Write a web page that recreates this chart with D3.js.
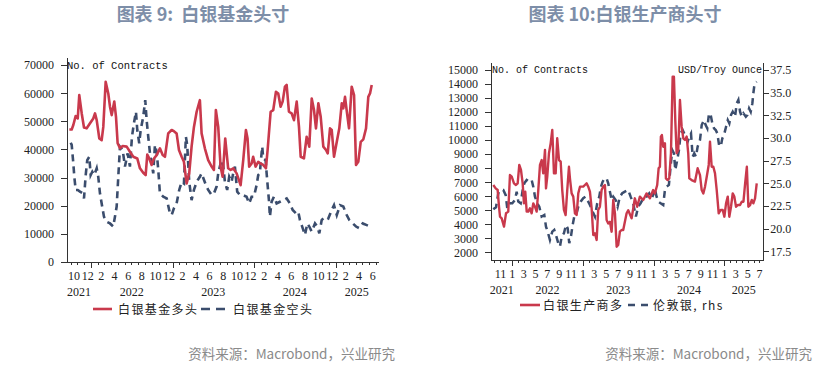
<!DOCTYPE html>
<html><head><meta charset="utf-8">
<script src="https://cdn.jsdelivr.net/npm/d3@7"></script>
<style>
body{margin:0;background:#fff;}
svg{display:block;}
</style></head>
<body><svg id="c" width="840" height="367"></svg>
<script>
// ---------- DATA (dates as decimal years) ----------
const fundLong = [[2021.733,47100],[2021.762,47100],[2021.782,48700],[2021.811,51900],[2021.836,51000],[2021.855,59300],[2021.885,52800],[2021.913,47800],[2021.946,47500],[2021.987,49300],[2022.027,51000],[2022.048,52800],[2022.069,50400],[2022.101,43900],[2022.130,43300],[2022.150,48000],[2022.179,64000],[2022.211,59900],[2022.232,55200],[2022.253,52200],[2022.285,57000],[2022.306,51600],[2022.326,42200],[2022.355,40400],[2022.388,41200],[2022.437,41000],[2022.477,39200],[2022.518,37400],[2022.567,36800],[2022.600,33300],[2022.640,31700],[2022.670,30900],[2022.690,38200],[2022.714,36800],[2022.744,34500],[2022.772,36800],[2022.805,38000],[2022.845,40400],[2022.879,38000],[2022.907,37400],[2022.947,45700],[2022.989,46900],[2023.017,46500],[2023.050,45700],[2023.079,39800],[2023.112,37400],[2023.140,35600],[2023.173,27900],[2023.205,31500],[2023.234,41000],[2023.263,48000],[2023.296,53400],[2023.336,57500],[2023.357,45700],[2023.397,40400],[2023.438,36200],[2023.480,33900],[2023.508,32700],[2023.532,54000],[2023.561,48000],[2023.590,33900],[2023.615,30300],[2023.647,43900],[2023.683,33300],[2023.713,32700],[2023.745,33300],[2023.787,31500],[2023.836,27300],[2023.868,36200],[2023.901,46900],[2023.921,43900],[2023.941,33900],[2023.971,35000],[2023.990,37400],[2024.020,33900],[2024.052,35600],[2024.081,35000],[2024.113,34500],[2024.146,33300],[2024.167,39800],[2024.204,53400],[2024.236,54000],[2024.269,60500],[2024.297,59900],[2024.326,55200],[2024.351,57000],[2024.379,62300],[2024.400,62900],[2024.428,53400],[2024.461,52800],[2024.490,50400],[2024.523,57000],[2024.551,48000],[2024.572,37400],[2024.612,36800],[2024.645,44500],[2024.677,41000],[2024.707,58100],[2024.735,54000],[2024.759,47500],[2024.788,56400],[2024.817,51600],[2024.849,41000],[2024.882,39800],[2024.903,38600],[2024.931,47500],[2024.952,46900],[2024.980,37400],[2025.014,42700],[2025.045,47500],[2025.075,56400],[2025.094,54600],[2025.115,58700],[2025.140,52800],[2025.164,47500],[2025.197,62300],[2025.226,59300],[2025.250,34500],[2025.278,35600],[2025.308,42700],[2025.340,43600],[2025.373,47500],[2025.401,58700],[2025.422,59900],[2025.443,62900]];

const fundShort = [[2021.750,42400],[2021.762,41600],[2021.782,35000],[2021.794,30300],[2021.811,25600],[2021.836,25600],[2021.864,25000],[2021.897,24400],[2021.913,22600],[2021.934,30900],[2021.953,36200],[2021.978,37400],[2021.995,30900],[2022.015,32100],[2022.039,30900],[2022.069,33300],[2022.088,30300],[2022.109,24400],[2022.130,20800],[2022.158,16100],[2022.191,14300],[2022.232,13700],[2022.272,12600],[2022.293,16100],[2022.314,19700],[2022.334,30300],[2022.355,41000],[2022.388,39800],[2022.416,33900],[2022.449,38600],[2022.477,33900],[2022.502,44500],[2022.526,49300],[2022.551,53400],[2022.567,46900],[2022.591,42200],[2022.609,46900],[2022.640,51600],[2022.665,57500],[2022.682,50400],[2022.702,44500],[2022.723,38600],[2022.744,35000],[2022.763,31500],[2022.784,41600],[2022.805,39200],[2022.825,32700],[2022.845,24400],[2022.886,23200],[2022.928,22600],[2022.968,17300],[2022.989,16700],[2023.017,19100],[2023.050,20800],[2023.082,25600],[2023.112,28500],[2023.140,27900],[2023.164,44500],[2023.180,41600],[2023.205,28500],[2023.234,22000],[2023.263,25600],[2023.296,28500],[2023.336,30300],[2023.357,31500],[2023.410,27300],[2023.438,25600],[2023.480,23800],[2023.508,24400],[2023.541,26800],[2023.561,31500],[2023.590,35000],[2023.615,36200],[2023.643,28500],[2023.671,25600],[2023.696,30300],[2023.725,28500],[2023.745,31500],[2023.766,33900],[2023.794,25000],[2023.827,23800],[2023.860,23800],[2023.909,23200],[2023.941,20800],[2023.971,23200],[2023.999,23200],[2024.032,27300],[2024.052,30900],[2024.072,31500],[2024.085,36200],[2024.101,41000],[2024.113,36800],[2024.142,36200],[2024.155,31500],[2024.167,27300],[2024.183,22000],[2024.195,16100],[2024.216,21400],[2024.244,23200],[2024.277,20800],[2024.318,21400],[2024.358,22000],[2024.400,22600],[2024.440,20800],[2024.474,18500],[2024.514,17300],[2024.542,17900],[2024.563,14900],[2024.584,13100],[2024.624,9600],[2024.653,13700],[2024.677,12600],[2024.707,10800],[2024.747,13700],[2024.775,12600],[2024.800,10200],[2024.829,14900],[2024.870,16100],[2024.910,15500],[2024.952,18500],[2024.980,20200],[2025.014,16700],[2025.054,20200],[2025.094,19700],[2025.136,16700],[2025.168,14900],[2025.210,13700],[2025.250,12600],[2025.291,12000],[2025.333,13700],[2025.382,13100],[2025.422,12600],[2025.443,12000]];

const producerLong = [[2021.731,6800],[2021.765,6560],[2021.793,6440],[2021.812,5250],[2021.826,4540],[2021.850,4420],[2021.883,3830],[2021.911,4780],[2021.943,4900],[2021.967,7510],[2021.992,7390],[2022.024,6920],[2022.052,6800],[2022.076,6920],[2022.099,8230],[2022.123,7870],[2022.147,6920],[2022.165,5490],[2022.184,6320],[2022.204,4900],[2022.226,4900],[2022.250,5140],[2022.274,4780],[2022.297,5490],[2022.321,5250],[2022.345,4900],[2022.368,6440],[2022.392,8230],[2022.416,8580],[2022.438,7630],[2022.463,9300],[2022.477,6560],[2022.495,7390],[2022.519,9060],[2022.543,9770],[2022.566,10720],[2022.590,7630],[2022.614,7630],[2022.636,10130],[2022.661,8580],[2022.685,8460],[2022.707,6440],[2022.731,5020],[2022.755,4660],[2022.778,6440],[2022.802,8100],[2022.816,7270],[2022.840,6200],[2022.863,5970],[2022.887,4780],[2022.911,4660],[2022.934,6200],[2022.958,6680],[2022.982,6680],[2023.004,6680],[2023.028,6800],[2023.052,6920],[2023.075,6680],[2023.099,6320],[2023.123,5140],[2023.146,3230],[2023.170,3350],[2023.194,2880],[2023.216,5020],[2023.240,5250],[2023.264,6440],[2023.287,6680],[2023.311,6800],[2023.335,4300],[2023.358,4060],[2023.382,4180],[2023.406,3470],[2023.429,5730],[2023.453,4780],[2023.477,2400],[2023.499,2520],[2023.523,3470],[2023.547,3590],[2023.570,3590],[2023.618,4780],[2023.641,5000],[2023.689,4420],[2023.735,5850],[2023.768,5250],[2023.806,5970],[2023.853,5730],[2023.901,6200],[2023.948,5850],[2023.994,6440],[2024.018,6200],[2024.051,6800],[2024.071,7990],[2024.089,8100],[2024.103,10250],[2024.117,10360],[2024.136,9530],[2024.160,9770],[2024.174,7270],[2024.198,7150],[2024.221,7270],[2024.245,9060],[2024.269,14520],[2024.287,14520],[2024.306,11430],[2024.325,9060],[2024.348,9300],[2024.372,12860],[2024.396,10960],[2024.419,10130],[2024.443,10010],[2024.467,10250],[2024.489,9060],[2024.504,7270],[2024.537,7150],[2024.584,7040],[2024.622,7990],[2024.655,7510],[2024.679,6440],[2024.702,6200],[2024.726,6680],[2024.750,7390],[2024.778,8230],[2024.796,9890],[2024.820,8100],[2024.843,8100],[2024.867,7630],[2024.891,6440],[2024.919,4780],[2024.948,5020],[2024.976,5020],[2024.999,4540],[2025.023,5490],[2025.047,5970],[2025.069,4540],[2025.093,5250],[2025.117,6200],[2025.140,5970],[2025.164,5250],[2025.188,5370],[2025.221,5370],[2025.245,5610],[2025.269,5610],[2025.293,6920],[2025.317,8100],[2025.339,5250],[2025.363,5370],[2025.387,5730],[2025.409,5490],[2025.433,5850],[2025.457,6920]];

const londonSilver = [[2021.731,22.13],[2021.769,22.35],[2021.802,23.9],[2021.836,24.27],[2021.873,24.27],[2021.907,23.7],[2021.929,22.24],[2021.967,22.8],[2022.000,22.8],[2022.038,23.16],[2022.062,24.08],[2022.085,22.98],[2022.119,22.8],[2022.147,24.27],[2022.170,25.0],[2022.204,25.37],[2022.236,25.2],[2022.274,25.37],[2022.297,24.63],[2022.321,23.53],[2022.354,22.8],[2022.382,22.43],[2022.416,21.33],[2022.453,21.5],[2022.477,20.22],[2022.501,19.67],[2022.533,18.75],[2022.566,19.67],[2022.594,19.86],[2022.618,19.3],[2022.651,18.39],[2022.675,18.02],[2022.699,19.12],[2022.731,19.49],[2022.760,20.4],[2022.784,20.04],[2022.806,18.39],[2022.830,19.12],[2022.854,20.4],[2022.877,21.33],[2022.911,21.69],[2022.934,22.43],[2022.967,22.98],[2023.004,23.35],[2023.038,23.53],[2023.075,22.98],[2023.099,22.61],[2023.137,21.88],[2023.170,21.33],[2023.202,22.8],[2023.231,23.53],[2023.255,24.63],[2023.279,25.18],[2023.307,25.55],[2023.335,25.55],[2023.358,25.0],[2023.382,24.08],[2023.406,23.16],[2023.429,23.53],[2023.463,23.16],[2023.491,22.43],[2023.523,23.53],[2023.556,23.9],[2023.594,24.08],[2023.641,24.27],[2023.675,23.53],[2023.711,22.8],[2023.750,21.33],[2023.782,22.43],[2023.816,22.8],[2023.853,23.35],[2023.901,23.53],[2023.938,23.9],[2023.972,23.35],[2023.994,23.7],[2024.018,24.45],[2024.042,23.53],[2024.065,22.98],[2024.099,22.8],[2024.136,22.61],[2024.160,24.27],[2024.184,24.63],[2024.216,24.82],[2024.240,26.84],[2024.263,28.68],[2024.287,28.31],[2024.306,26.47],[2024.334,27.57],[2024.358,28.68],[2024.382,30.5],[2024.410,30.88],[2024.433,30.5],[2024.457,30.15],[2024.481,29.6],[2024.504,30.15],[2024.528,30.5],[2024.552,27.94],[2024.574,28.31],[2024.598,27.94],[2024.622,29.05],[2024.655,29.78],[2024.679,31.43],[2024.711,31.98],[2024.735,31.43],[2024.758,31.07],[2024.782,32.72],[2024.806,32.54],[2024.829,31.62],[2024.853,31.07],[2024.877,30.88],[2024.900,30.5],[2024.924,29.23],[2024.948,29.05],[2024.970,29.96],[2024.994,30.33],[2025.023,31.25],[2025.047,31.98],[2025.069,31.62],[2025.093,32.54],[2025.117,32.9],[2025.150,32.35],[2025.174,33.82],[2025.197,34.19],[2025.221,32.9],[2025.245,32.35],[2025.269,32.72],[2025.303,32.35],[2025.325,32.54],[2025.349,33.27],[2025.372,32.9],[2025.395,33.82],[2025.409,34.93],[2025.427,36.03],[2025.457,36.21]];

const leftYTicks = [0,10000,20000,30000,40000,50000,60000,70000];
const rightLYTicks = [2000,3000,4000,5000,6000,7000,8000,9000,10000,11000,12000,13000,14000,15000];
const rightRYTicks = [17.5,20.0,22.5,25.0,27.5,30.0,32.5,35.0,37.5];
const years = [2021,2022,2023,2024,2025];
const titles = ["图表 9:  白银基金头寸","图表 10:白银生产商头寸"];
const leftLegend = ["白银基金多头","白银基金空头"];
const rightLegend = ["白银生产商多","伦敦银, rhs"];
const source = "资料来源：Macrobond，兴业研究";

// ---------- helpers ----------
function dy(t){const y=Math.floor(t);const s=new Date(y,0,1),e=new Date(y+1,0,1);return new Date(+s+(t-y)*(e-s));}
const RED="#c9394c", BLUE="#3b4d6d";
const svg=d3.select("#c");
const serif="'Liberation Serif','Times New Roman',serif";
const mono="'Liberation Mono','DejaVu Sans Mono',monospace";
const cjk="'Noto Sans CJK SC','Noto Sans',sans-serif";

// titles
svg.append("text").attr("x",203).attr("y",21).attr("text-anchor","middle").attr("xml:space","preserve")
  .attr("font-family",cjk).attr("font-weight","bold").attr("font-size",18).attr("fill","#7d8ea8").text(titles[0]);
svg.append("text").attr("x",625).attr("y",21).attr("text-anchor","middle")
  .attr("font-family",cjk).attr("font-weight","bold").attr("font-size",18).attr("fill","#7d8ea8").text(titles[1]);
// sources
svg.append("text").attr("x",395).attr("y",359).attr("text-anchor","end")
  .attr("font-family",cjk).attr("font-size",13.5).attr("fill","#8a8a8a").text(source);
svg.append("text").attr("x",812).attr("y",359).attr("text-anchor","end")
  .attr("font-family",cjk).attr("font-size",13.5).attr("fill","#8a8a8a").text(source);

function styleAxis(g){
  g.selectAll("path,line").attr("stroke","#333").attr("stroke-width",1).attr("shape-rendering","crispEdges");
  g.selectAll("text").attr("font-family",serif).attr("font-size",12).attr("fill","#222");
}

function xAxis(g, x, y0, labelMode){
  const [d0,d1]=x.domain();
  const months=d3.timeMonth.range(d3.timeMonth.ceil(d0), d1);
  const ax=g.append("g").attr("transform",`translate(0,${y0})`)
    .call(d3.axisBottom(x).tickValues(months).tickSize(3).tickSizeOuter(0).tickFormat(""));
  styleAxis(ax);
  const jans=months.filter(m=>m.getMonth()===0);
  g.selectAll(null).data(jans).enter().append("line")
    .attr("x1",d=>Math.round(x(d))+0.5).attr("x2",d=>Math.round(x(d))+0.5)
    .attr("y1",y0).attr("y2",y0+6).attr("stroke","#333");
  let lab;
  if(labelMode==="even"){
    lab=months.filter(m=>m.getMonth()%2===1).map(m=>({d:m,x:x(new Date(+m+ (d3.timeMonth.offset(m,1)-m)/2))}));
  } else {
    lab=months.filter(m=>m.getMonth()%2===0).map(m=>({d:m,x:x(m)}));
  }
  g.selectAll(null).data(lab).enter().append("text")
    .attr("x",d=>d.x).attr("y",y0+18).attr("text-anchor","middle")
    .attr("font-family",serif).attr("font-size",12).attr("fill","#222")
    .text(d=>d.d.getMonth()+1);
  years.forEach(yr=>{
    const a=Math.max(+d0,+new Date(yr,0,1)), b=Math.min(+d1,+new Date(yr+1,0,1));
    g.append("text").attr("x",(x(new Date(a))+x(new Date(b)))/2).attr("y",y0+34)
      .attr("text-anchor","middle").attr("font-family",serif).attr("font-size",12).attr("fill","#222").text(yr);
  });
}

// ---------- LEFT CHART ----------
{
  const g=svg.append("g");
  const x=d3.scaleTime().domain([dy(2021.7043),dy(2025.520)]).range([67,378]);
  const y=d3.scaleLinear().domain([0,72850]).range([262,57]);
  const ay=g.append("g").attr("transform","translate(67,0)")
    .call(d3.axisLeft(y).tickValues(leftYTicks).tickSize(6).tickSizeOuter(0).tickPadding(7).tickFormat(d3.format("d")));
  styleAxis(ay);
  xAxis(g,x,262,"even");
  g.append("text").attr("x",67).attr("y",69).attr("font-family",mono).attr("font-size",10.5).attr("fill","#111").text("No. of Contracts");
  const line=d3.line().x(d=>x(dy(d[0]))).y(d=>y(d[1]));
  g.append("path").datum(fundShort).attr("d",line).attr("fill","none").attr("stroke",BLUE).attr("stroke-width",2.6).attr("stroke-dasharray","7,5");
  g.append("path").datum(fundLong).attr("d",line).attr("fill","none").attr("stroke",RED).attr("stroke-width",2.6).attr("stroke-linejoin","round");
  // legend
  const ly=309;
  g.append("line").attr("x1",93).attr("x2",112).attr("y1",ly).attr("y2",ly).attr("stroke",RED).attr("stroke-width",2.6);
  g.append("text").attr("x",118).attr("y",ly+4.5).attr("font-family",cjk).attr("font-size",12).attr("letter-spacing",1.4).attr("fill","#222").text(leftLegend[0]);
  g.append("line").attr("x1",201).attr("x2",230).attr("y1",ly).attr("y2",ly).attr("stroke",BLUE).attr("stroke-width",2.6).attr("stroke-dasharray","9,6");
  g.append("text").attr("x",233).attr("y",ly+4.5).attr("font-family",cjk).attr("font-size",12).attr("letter-spacing",1.4).attr("fill","#222").text(leftLegend[1]);
}

// ---------- RIGHT CHART ----------
{
  const g=svg.append("g");
  const x=d3.scaleTime().domain([dy(2021.6987),dy(2025.550)]).range([491,763.3]);
  const yL=d3.scaleLinear().domain([1451,15520]).range([260,62.7]);
  const yR=d3.scaleLinear().domain([16.54,38.31]).range([260,62.7]);
  const al=g.append("g").attr("transform","translate(491,0)")
    .call(d3.axisLeft(yL).tickValues(rightLYTicks).tickSize(6).tickSizeOuter(0).tickPadding(7).tickFormat(d3.format("d")));
  styleAxis(al);
  const ar=g.append("g").attr("transform","translate(763.3,0)")
    .call(d3.axisRight(yR).tickValues(rightRYTicks).tickSize(6).tickSizeOuter(0).tickPadding(1).tickFormat(d3.format(".1f")));
  styleAxis(ar);
  xAxis(g,x,260,"odd");
  g.append("text").attr("x",492).attr("y",73).attr("font-family",mono).attr("font-size",10).attr("fill","#111").text("No. of Contracts");
  g.append("text").attr("x",762).attr("y",73).attr("text-anchor","end").attr("font-family",mono).attr("font-size",10).attr("fill","#111").text("USD/Troy Ounce");
  const lineL=d3.line().x(d=>x(dy(d[0]))).y(d=>yL(d[1]));
  const lineR=d3.line().x(d=>x(dy(d[0]))).y(d=>yR(d[1]));
  g.append("path").datum(londonSilver).attr("d",lineR).attr("fill","none").attr("stroke",BLUE).attr("stroke-width",2.5).attr("stroke-dasharray","7,5");
  g.append("path").datum(producerLong).attr("d",lineL).attr("fill","none").attr("stroke",RED).attr("stroke-width",2.4).attr("stroke-linejoin","round");
  const ly=305;
  g.append("line").attr("x1",520).attr("x2",540).attr("y1",ly).attr("y2",ly).attr("stroke",RED).attr("stroke-width",2.6);
  g.append("text").attr("x",543).attr("y",ly+4.5).attr("font-family",cjk).attr("font-size",12).attr("letter-spacing",1.4).attr("fill","#222").text(rightLegend[0]);
  g.append("line").attr("x1",628).attr("x2",651).attr("y1",ly).attr("y2",ly).attr("stroke",BLUE).attr("stroke-width",2.6).attr("stroke-dasharray","7,6");
  g.append("text").attr("x",653).attr("y",ly+4.5).attr("font-family",cjk).attr("font-size",12).attr("letter-spacing",1.4).attr("fill","#222").attr("xml:space","preserve").text(rightLegend[1]);
}
</script></body></html>
